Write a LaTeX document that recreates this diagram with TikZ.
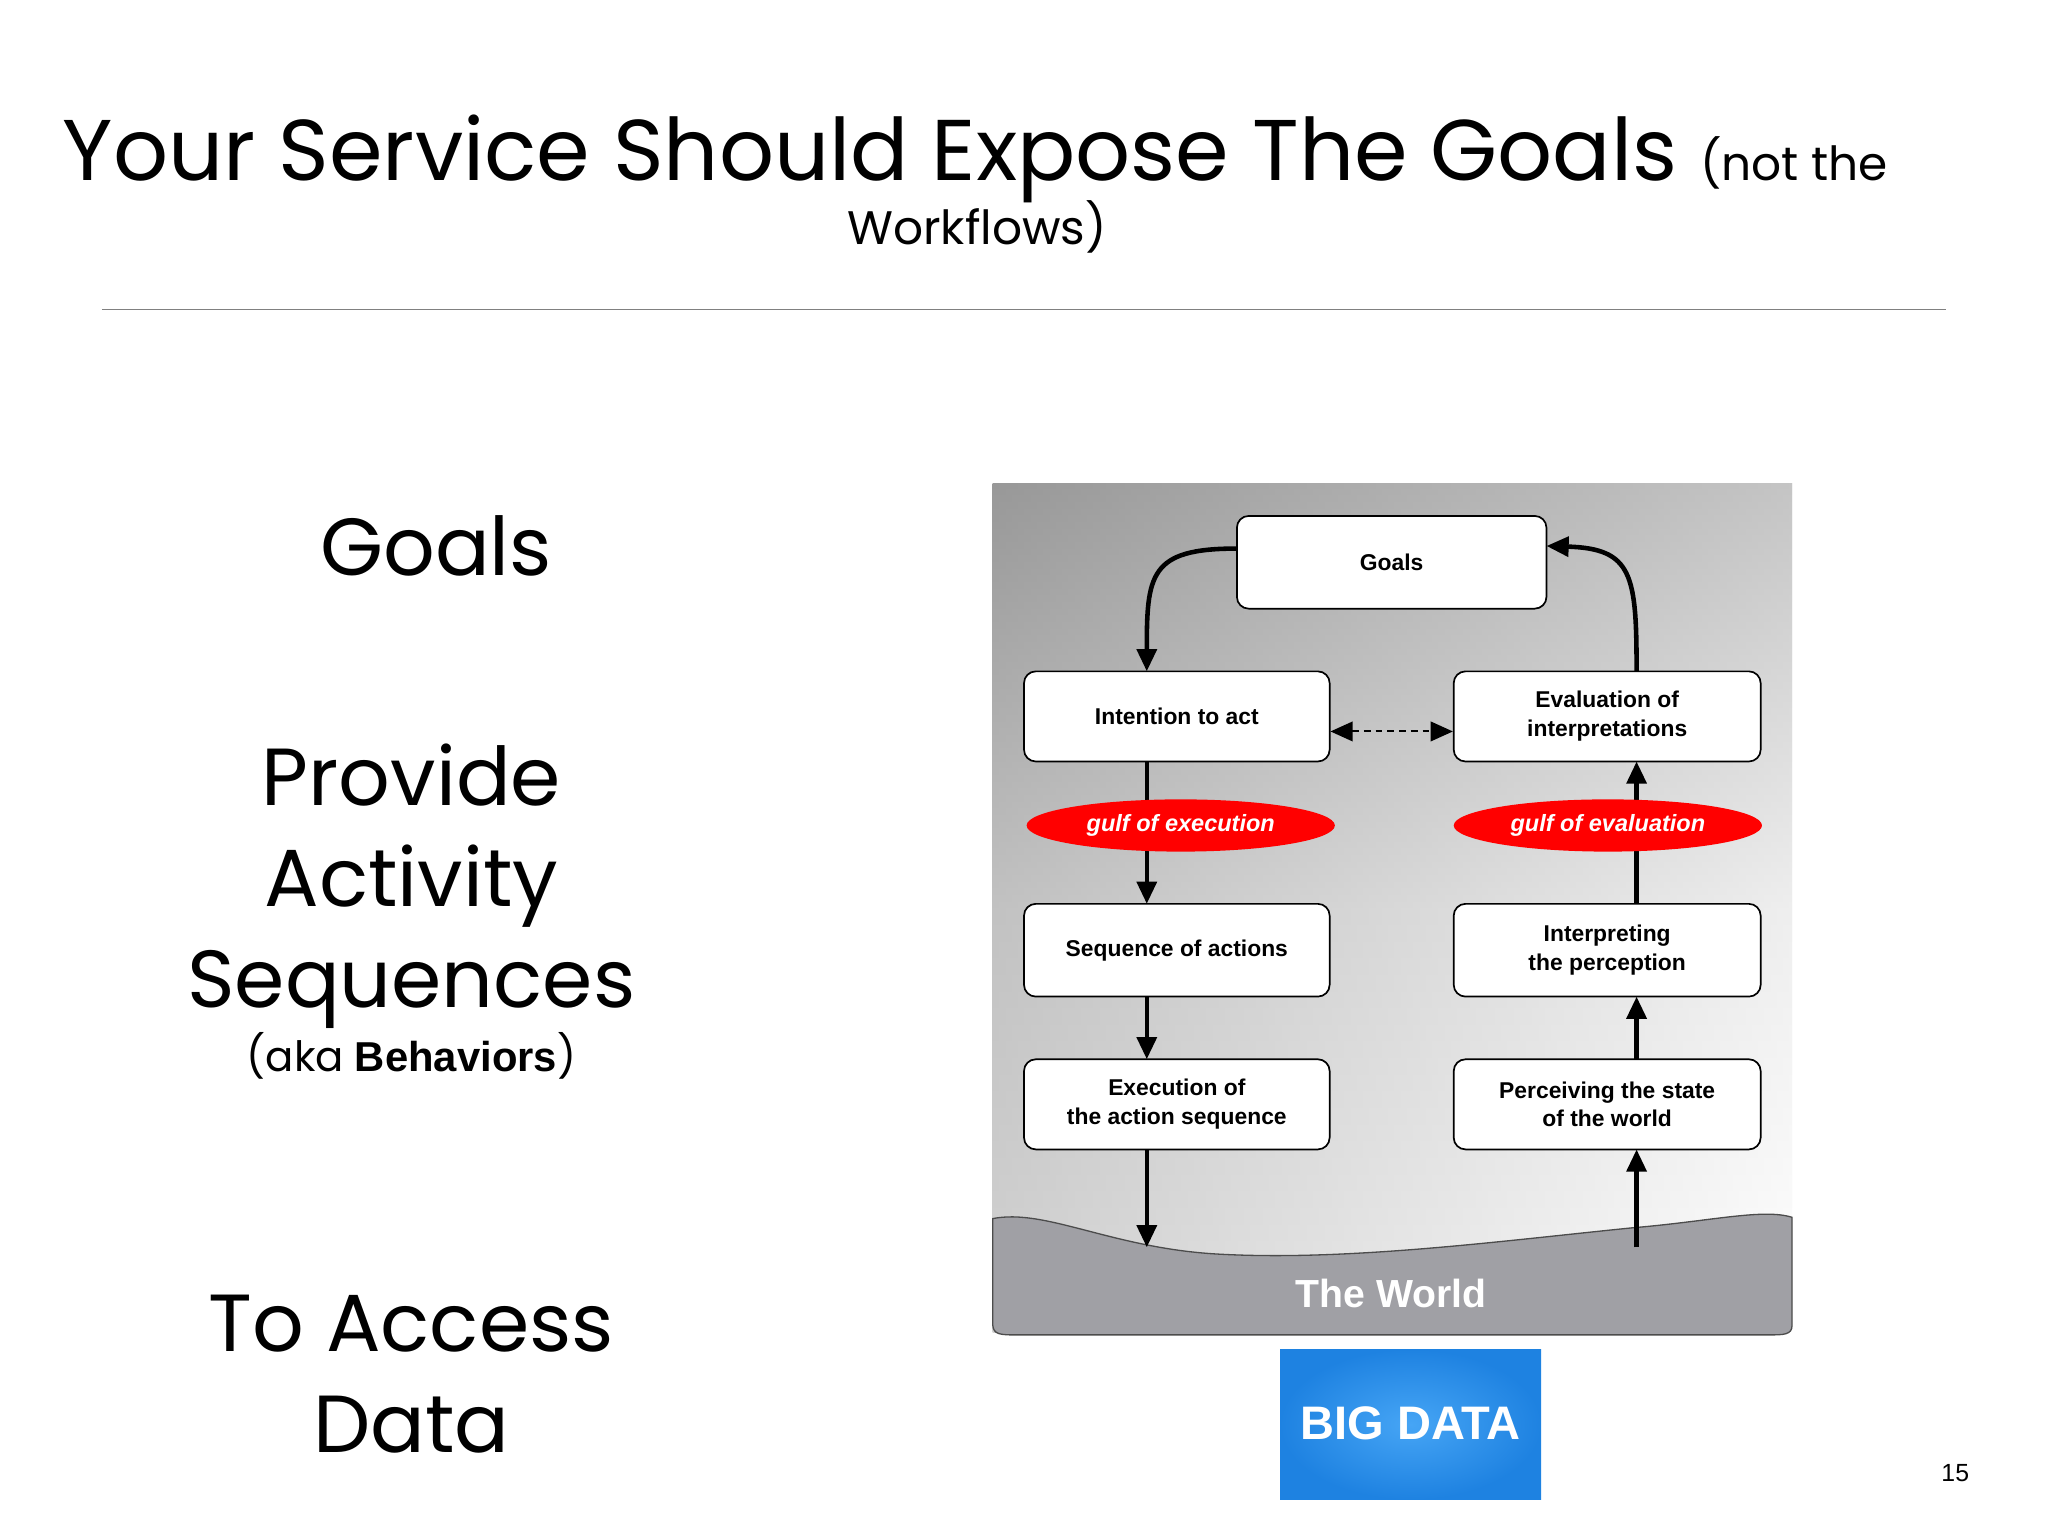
\documentclass[tikz,border=0pt]{standalone}
\usepackage{fontspec}
\setmainfont{Poppins}
\newfontfamily\boxfont{Liberation Sans}
\usetikzlibrary{arrows.meta,shapes.geometric}
\begin{document}
\begin{tikzpicture}[x=1pt,y=-1pt,
  bx/.style={draw=black,line width=1.3pt,rounded corners=9pt,fill=white,align=center,font=\boxfont\fontsize{17.5}{22}\selectfont\bfseries,inner sep=0pt},
  gulf/.style={ellipse,fill=red,minimum width=236pt,minimum height=40pt,inner sep=0pt,text=white,font=\boxfont\fontsize{18}{20}\selectfont\bfseries\itshape},
  ar/.style={line width=3.5pt,-{Triangle[length=17pt,width=15pt]}},
  big/.style={font=\fontsize{62}{70}\selectfont,align=center}]
\useasboundingbox (0,0) rectangle (1568,1176);
\fill[white] (0,0) rectangle (1568,1176);
% title
\node[anchor=base west,font=\fontsize{66}{74}\selectfont,inner sep=0] (t1) at (48,138) {Your Service Should Expose The Goals {\fontsize{36}{40}\selectfont(not the}};
\node[anchor=base,font=\fontsize{36}{40}\selectfont,inner sep=0] (t2) at (748,187) {Workflows)};
\draw[gray,line width=1pt] (78,237) -- (1490,237);
% left
\node[big] (lg) at (334,418) {Goals};
\node[big,anchor=base] (l1) at (315,617) {Provide};
\node[big,anchor=base] (l2) at (315,694) {Activity};
\node[big,anchor=base] (l3) at (315,771) {Sequences};
\node[font=\fontsize{32}{36}\selectfont,anchor=base] (l4) at (315,820) {(aka {\boxfont\bfseries Behaviors})};
\node[big,anchor=base] (l5) at (315,1035) {To Access};
\node[big,anchor=base] (l6) at (315,1112) {Data};
\node[font=\boxfont\fontsize{19}{22}\selectfont] (pg) at (1497,1128) {15};
% panel
\shade[top color=gray!70, bottom color=white, middle color=gray!20] (760,370) rectangle (1372,1020);
\shade[left color=black!50,right color=white,opacity=0.35] (760,370) rectangle (1372,1020);
\fill[color={rgb,255:red,160;green,160;blue,165}] (760,933) .. controls (800,925) and (850,955) .. (930,960) .. controls (1030,966) and (1150,950) .. (1250,940) .. controls (1310,935) and (1350,925) .. (1372,932) -- (1372,1015) .. controls (1372,1022) and (1365,1022) .. (1355,1022) -- (775,1022) .. controls (762,1022) and (760,1020) .. (760,1012) -- cycle;
\draw[line width=1pt,black!70] (760,933) .. controls (800,925) and (850,955) .. (930,960) .. controls (1030,966) and (1150,950) .. (1250,940) .. controls (1310,935) and (1350,925) .. (1372,932) -- (1372,1015) .. controls (1372,1022) and (1365,1022) .. (1355,1022) -- (775,1022) .. controls (762,1022) and (760,1020) .. (760,1012) -- cycle;
\node[text=white,font=\boxfont\fontsize{30}{34}\selectfont\bfseries] (world) at (1065,990) {The World};
\coordinate (wl) at (878,955);
\coordinate (wr) at (1253,955);
% boxes
\node[bx,minimum width=237pt,minimum height=71pt] (goals) at (1065.5,430.5) {Goals};
\node[bx,minimum width=234pt,minimum height=69pt] (int) at (901,548.5) {Intention to act};
\node[bx,minimum width=235pt,minimum height=69pt] (eval) at (1230.5,548.5) {Evaluation of\\interpretations};
\node[bx,minimum width=234pt,minimum height=71pt] (seq) at (901,727.5) {Sequence of actions};
\node[bx,minimum width=235pt,minimum height=71pt] (interp) at (1230.5,727.5) {Interpreting\\the perception};
\node[bx,minimum width=234pt,minimum height=69pt] (exec) at (901,845.5) {Execution of\\the action sequence};
\node[bx,minimum width=235pt,minimum height=69pt] (perc) at (1230.5,845.5) {Perceiving the state\\of the world};
% arrows
\draw[ar] (goals.west |- 0,420) .. controls (880,420) and (878,440) .. (878,514);
\draw[ar] (1253,514) .. controls (1253,440) and (1250,420) .. (1184,418);
\draw[line width=1.5pt,dash pattern=on 5pt off 4pt,{Triangle[length=17pt,width=15pt]}-{Triangle[length=17pt,width=15pt]}] (int.east |- 0,560) -- (eval.west |- 0,560);
\draw[ar] (878,583) -- (878,692);
\draw[ar] (1253,692) -- (1253,583);
\draw[ar] (878,763) -- (878,811);
\draw[ar] (1253,811) -- (1253,763);
\draw[ar] (878,880) -- (wl);
\draw[ar] (wr) -- (1253,880);
\node[gulf] (ge) at (904,632) {gulf of execution};
\node[gulf] (gv) at (1231,632) {gulf of evaluation};
% big data
\shade[inner color={rgb,255:red,70;green,165;blue,245},outer color={rgb,255:red,30;green,130;blue,225}] (980,1033) rectangle (1180,1148);
\node[text=white,font=\boxfont\fontsize{36}{40}\selectfont\bfseries] (bd) at (1080,1090) {BIG DATA};
\end{tikzpicture}
\end{document}
